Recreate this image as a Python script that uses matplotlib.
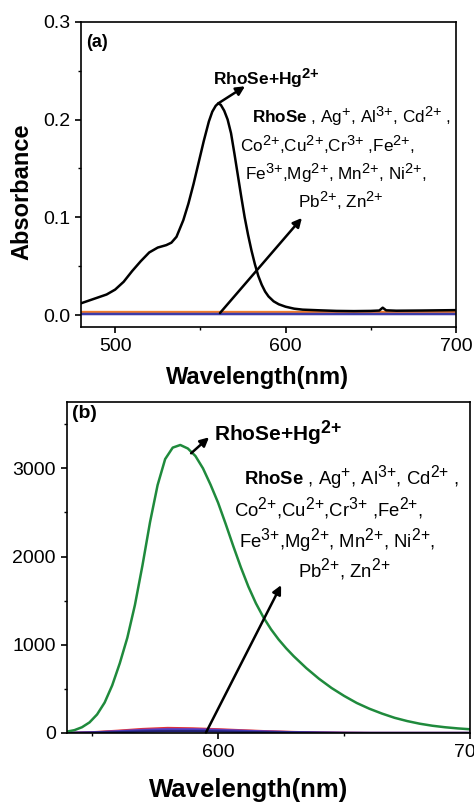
import matplotlib
matplotlib.use("Agg")
import matplotlib.pyplot as plt
import matplotlib._mathtext as _mt
from matplotlib.ticker import MultipleLocator

_mt.SHRINK_FACTOR = 0.85  # larger superscripts, as in the reference

plt.rcParams['font.family'] = ['Liberation Sans', 'DejaVu Sans']
plt.rcParams['mathtext.fontset'] = 'custom'
plt.rcParams['mathtext.rm'] = 'Liberation Sans'
plt.rcParams['mathtext.it'] = 'Liberation Sans:italic'
plt.rcParams['mathtext.bf'] = 'Liberation Sans:bold'
plt.rcParams['axes.linewidth'] = 1.2

# ---------------- data: panel (a) absorbance ----------------
wl_a = [480, 485, 490, 495, 500, 505, 510, 515, 520, 525, 530, 533, 536, 540, 543,
        546, 549, 552, 555, 557, 559, 560.5, 562, 564, 566, 568, 570, 572, 574, 576,
        578, 580, 582, 584, 586, 588, 590, 593, 596, 600, 605, 610, 620, 630, 640,
        650, 655, 657, 659, 665, 680, 700]
abs_hg = [0.012, 0.015, 0.018, 0.021, 0.026, 0.034, 0.045, 0.055, 0.064, 0.069, 0.0715,
          0.074, 0.080, 0.097, 0.114, 0.134, 0.156, 0.178, 0.198, 0.208, 0.214, 0.2165,
          0.215, 0.209, 0.200, 0.186, 0.165, 0.143, 0.121, 0.100, 0.082, 0.066, 0.052,
          0.040, 0.031, 0.024, 0.019, 0.014, 0.011, 0.0085, 0.0065, 0.0055, 0.0048,
          0.0042, 0.0040, 0.0042, 0.0046, 0.0075, 0.0048, 0.0044, 0.0046, 0.0050]
wl_a_base = [480, 700]
abs_others = {
    '#f7c7a0': [0.0032, 0.0032],
    '#f07c2a': [0.0026, 0.0026],
    '#8a5cc0': [0.0013, 0.0013],
    '#5a4ab8': [0.0009, 0.0009],
    '#3c3ca8': [0.0006, 0.0006],
}

# ---------------- data: panel (b) fluorescence ----------------
wl_b = [540, 543, 546, 549, 552, 555, 558, 561, 564, 567, 570, 573, 576, 579, 582,
        585, 588, 591, 594, 597, 600, 603, 606, 609, 612, 615, 618, 621, 624, 627,
        630, 635, 640, 645, 650, 655, 660, 665, 670, 675, 680, 685, 690, 695, 700]
fl_hg = [15, 32, 65, 120, 210, 345, 540, 790, 1080, 1450, 1900, 2390, 2810, 3105, 3235,
         3265, 3225, 3140, 3000, 2815, 2610, 2370, 2120, 1880, 1660, 1470, 1310, 1175,
         1060, 960, 870, 735, 615, 510, 420, 340, 275, 220, 172, 135, 105, 82, 65, 52, 42]
wl_b_small = [540, 550, 560, 570, 580, 590, 600, 610, 620, 630, 640, 650, 660, 700]
fl_others = {
    '#e8302e': [0, 8, 25, 45, 57, 52, 42, 30, 19, 11, 5, 2, 0, 0],
    '#8e3fa8': [0, 6, 20, 36, 46, 44, 36, 26, 16, 9, 4, 1, 0, 0],
    '#4a3cc0': [0, 5, 16, 30, 38, 37, 31, 22, 14, 8, 3, 1, 0, 0],
    '#1e1e6e': [0, 3, 9, 16, 20, 20, 17, 12, 8, 4, 2, 0, 0, 0],
}

label_hg = r"RhoSe+Hg$^{\mathbf{2{+}}}$"
ion_lines = [
    r"$\mathbf{RhoSe}$ , Ag$^{{+}}$, Al$^{3{+}}$, Cd$^{2{+}}$ ,",
    r"Co$^{2{+}}$,Cu$^{2{+}}$,Cr$^{3{+}}$ ,Fe$^{2{+}}$,",
    r"Fe$^{3{+}}$,Mg$^{2{+}}$, Mn$^{2{+}}$, Ni$^{2{+}}$,",
    r"Pb$^{2{+}}$, Zn$^{2{+}}$",
]

fig = plt.figure(figsize=(4.74, 8.06), dpi=100)
ax1 = fig.add_axes([0.171, 0.594, 0.791, 0.379])
ax2 = fig.add_axes([0.141, 0.0906, 0.851, 0.4104])

arrow_kw = dict(arrowstyle='-|>', lw=1.8, color='black', mutation_scale=13,
                shrinkA=0, shrinkB=0)

# ---------- panel (a) ----------
for c, v in abs_others.items():
    ax1.plot(wl_a_base, v, color=c, lw=1.6)
ax1.plot(wl_a, abs_hg, color='black', lw=1.8)
ax1.set_xlim(480, 700)
ax1.set_ylim(-0.0125, 0.3)
ax1.xaxis.set_major_locator(MultipleLocator(100))
ax1.xaxis.set_minor_locator(MultipleLocator(50))
ax1.yaxis.set_major_locator(MultipleLocator(0.1))
ax1.yaxis.set_minor_locator(MultipleLocator(0.05))
ax1.set_xlabel('Wavelength(nm)', fontsize=17, fontweight='bold')
ax1.set_ylabel('Absorbance', fontsize=17, fontweight='bold')
ax1.xaxis.set_label_coords(0.47, -0.128)
ax1.yaxis.set_label_coords(-0.128, 0.443)
ax1.text(0.013, 0.931, '(a)', transform=ax1.transAxes, fontsize=13,
         fontweight='bold', va='center', ha='left')
ax1.annotate('', xy=(576.2, 0.234), xytext=(560.5, 0.2165), arrowprops=arrow_kw)
ax1.annotate('', xy=(609.6, 0.0993), xytext=(561.5, 0.002), arrowprops=arrow_kw)
ax1.text(557.2, 0.2353, label_hg, fontsize=12.5, fontweight='bold', va='baseline')
pos_a = [(580.1, 0.1961), (573.3, 0.1671), (576.2, 0.1381), (607.4, 0.1092)]
for (x, y), s in zip(pos_a, ion_lines):
    ax1.text(x, y, s, fontsize=12.3, va='baseline', ha='left')

# ---------- panel (b) ----------
for c, v in fl_others.items():
    ax2.plot(wl_b_small, v, color=c, lw=1.6)
ax2.plot(wl_b, fl_hg, color='#1f8a3c', lw=1.8)
ax2.set_xlim(540, 700)
ax2.set_ylim(0, 3750)
ax2.xaxis.set_major_locator(MultipleLocator(100))
ax2.xaxis.set_minor_locator(MultipleLocator(50))
ax2.yaxis.set_major_locator(MultipleLocator(1000))
ax2.yaxis.set_minor_locator(MultipleLocator(500))
ax2.set_xlabel('Wavelength(nm)', fontsize=18.5, fontweight='bold')
ax2.xaxis.set_label_coords(0.45, -0.136)
ax2.text(0.012, 0.967, '(b)', transform=ax2.transAxes, fontsize=14,
         fontweight='bold', va='center', ha='left')
ax2.annotate('', xy=(596.4, 3352), xytext=(589.3, 3171), arrowprops=arrow_kw)
ax2.annotate('', xy=(625.0, 1676), xytext=(595.2, 5), arrowprops=arrow_kw)
ax2.text(598.4, 3310, label_hg, fontsize=15, fontweight='bold', va='baseline')
pos_b = [(610.3, 2820), (606.3, 2469), (608.3, 2110), (631.7, 1770)]
for (x, y), s in zip(pos_b, ion_lines):
    ax2.text(x, y, s, fontsize=13.3, va='baseline', ha='left')

for ax in (ax1, ax2):
    ax.tick_params(which='major', direction='out', length=4, width=1.2,
                   labelsize=14, top=False, right=False, pad=4)
    ax.tick_params(which='minor', direction='out', length=2.5, width=1.0,
                   top=False, right=False)

fig.savefig('out.png', dpi=100)
